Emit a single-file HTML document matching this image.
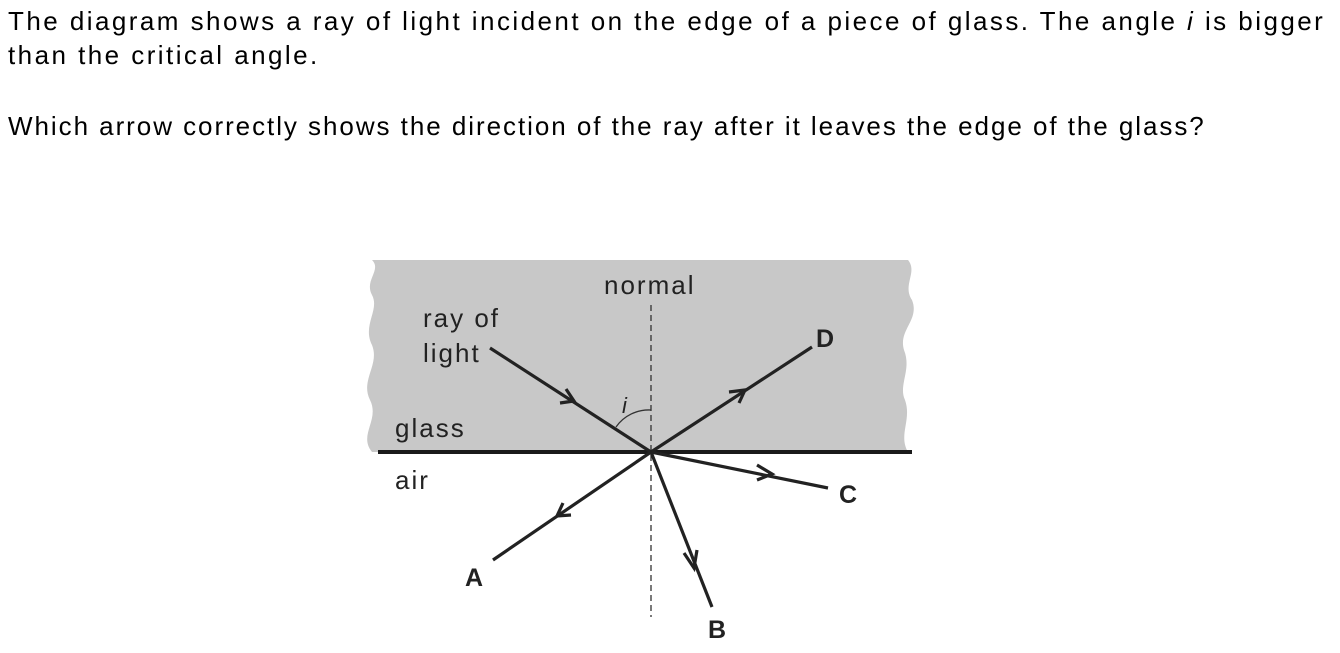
<!DOCTYPE html>
<html><head><style>
body{margin:0;width:1340px;height:653px;background:#fff;overflow:hidden;font-family:"Liberation Sans",Arial,sans-serif;}
.t{position:absolute;left:8px;font-size:26px;color:#000;white-space:nowrap;letter-spacing:2.45px;}
</style></head><body>
<div class="t" style="top:6px">The diagram shows a ray of light incident on the edge of a piece of glass. The angle <i>i</i> is bigger</div>
<div class="t" style="top:40px">than the critical angle.</div>
<div class="t" style="top:111px;letter-spacing:1.95px">Which arrow correctly shows the direction of the ray after it leaves the edge of the glass?</div>
<svg width="1340" height="653" style="position:absolute;left:0;top:0" font-family="Liberation Sans, Arial, sans-serif">
<path d="M372,260 L908,260 C918,272 902,285 912,300 C920,320 898,330 904,350 C912,370 898,385 905,400 C912,420 898,435 908,452 L372,452 C358,435 380,420 370,400 C360,380 380,365 372,345 C362,325 380,310 372,295 C364,280 382,270 372,260 Z" fill="#c8c8c8"/>
<line x1="378" y1="452" x2="912" y2="452" stroke="#1a1a1a" stroke-width="4"/>
<line x1="651" y1="305" x2="651" y2="617" stroke="#333" stroke-width="1.3" stroke-dasharray="6,4"/>
<path d="M616,427 A40,40 0 0 1 651,410" fill="none" stroke="#333" stroke-width="1.3"/>
<g stroke="#222" stroke-width="3.2" fill="none" stroke-linejoin="miter">
<line x1="490" y1="348" x2="651" y2="452"/>
<line x1="651" y1="452" x2="812" y2="347"/>
<line x1="651" y1="452" x2="828" y2="488"/>
<line x1="651" y1="452" x2="712" y2="607"/>
<line x1="651" y1="452" x2="493" y2="560"/>
<polyline points="566,389 574,401 560,403"/>
<polyline points="729,392 745,390 739,403"/>
<polyline points="757,465 772,474 757,480"/>
<polyline points="684,553 694,568 697,550"/>
<polyline points="563,503 557,516 571,515"/>
</g>
<g font-size="26" fill="#222" letter-spacing="2">
<text x="604" y="294">normal</text>
<text x="423" y="327">ray of</text>
<text x="423" y="362">light</text>
<text x="395" y="437">glass</text>
<text x="395" y="489">air</text>
<text x="622" y="413" font-style="italic" font-size="22">i</text>
<g font-weight="bold" font-size="25" letter-spacing="0">
<text x="816" y="347">D</text>
<text x="839" y="503">C</text>
<text x="708" y="638">B</text>
<text x="465" y="586">A</text>
</g>
</g>
</svg>
</body></html>
